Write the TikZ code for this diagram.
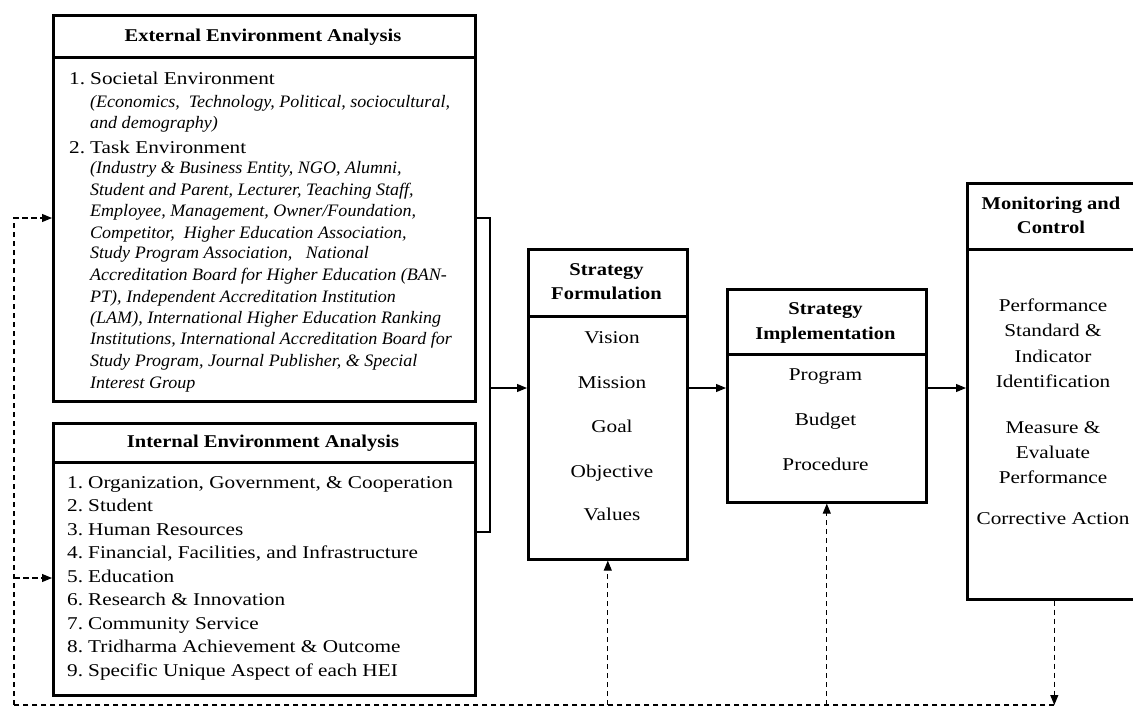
\documentclass[tikz,border=0pt]{standalone}
\usepackage{fontspec}
\setmainfont{Liberation Serif}[FakeStretch=1.18]
\newfontfamily\itfont{Liberation Serif}[FakeStretch=1.03]
\newfontfamily\bfont{Liberation Serif}[FakeStretch=1.14]
\usetikzlibrary{arrows.meta}
\begin{document}
\begin{tikzpicture}[x=1pt,y=-1pt,
  box/.style={draw, line width=2.6pt, inner sep=0pt, anchor=north west},
  thinline/.style={line width=1.1pt},
  conn/.style={line width=1.1pt, -{Triangle[length=10pt,width=8pt]}},
  fb/.style={line width=1.1pt, dash pattern=on 5.5pt off 3.5pt},
  fbarrow/.style={fb, -{Triangle[length=10pt,width=8pt]}},
  txt/.style={font=\fontsize{18}{20}\selectfont, inner sep=0pt, anchor=base west},
  itxt/.style={txt, font=\itfont\fontsize{17.5}{20}\selectfont\itshape},
  ctxt/.style={txt, anchor=base},
  htxt/.style={txt, anchor=base, font=\bfont\fontsize{18}{20}\selectfont\bfseries}
]
\clip (0,0) rectangle (1133,707);
\fill[white] (0,0) rectangle (1133,707);

% External
\node[box, minimum width=422pt, minimum height=42pt] (exth) at (52,14) {};
\node[box, minimum width=422pt, minimum height=344pt] (extb) at (52,56) {};
\node[htxt] (extt) at (263,41) {External Environment Analysis};
\node[txt] (e1n) at (69,84) {1.};
\node[txt] (e1) at (90,84) {Societal Environment};
\node[txt] (e2n) at (69,153) {2.};
\node[txt] (e2) at (90,153) {Task Environment};
\foreach \y/\t [count=\i] in {
  107.5/{(Economics,\ \ Technology, Political, sociocultural,},
  128.5/{and demography)},
  173.5/{(Industry \& Business Entity, NGO, Alumni,},
  195.5/{Student and Parent, Lecturer, Teaching Staff,},
  216.5/{Employee, Management, Owner/Foundation,},
  238.5/{Competitor,\ \ Higher Education Association,},
  258.5/{Study Program Association,\ \ \ National},
  280.5/{Accreditation Board for Higher Education (BAN-},
  302.5/{PT), Independent Accreditation Institution},
  323.5/{(LAM), International Higher Education Ranking},
  344.5/{Institutions, International Accreditation Board for},
  366.5/{Study Program, Journal Publisher, \& Special},
  388.5/{Interest Group}}
  \node[itxt] (ei\i) at (90,\y) {\t};

% Internal
\node[box, minimum width=422pt, minimum height=39pt] (inth) at (52,422) {};
\node[box, minimum width=422pt, minimum height=233pt] (intb) at (52,461) {};
\node[htxt] (intt) at (263,447.5) {Internal Environment Analysis};
\foreach \t [count=\i] in {
  {Organization, Government, \& Cooperation},
  {Student},
  {Human Resources},
  {Financial, Facilities, and Infrastructure},
  {Education},
  {Research \& Innovation},
  {Community Service},
  {Tridharma Achievement \& Outcome},
  {Specific Unique Aspect of each HEI}}
  {
  \node[txt] (in\i) at (67,{482+6+(\i-1)*23.5}) {\i.};
  \node[txt] (it\i) at (88,{482+6+(\i-1)*23.5}) {\t};
  }

% Strategy Formulation
\node[box, minimum width=159pt, minimum height=67pt] (formh) at (527,248) {};
\node[box, minimum width=159pt, minimum height=243pt] (formb) at (527,315) {};
\node[htxt] (ft1) at (606.5,275) {Strategy};
\node[htxt] (ft2) at (606.5,299) {Formulation};
\foreach \t/\y [count=\i] in {Vision/337,Mission/382,Goal/426,Objective/471,Values/514}
  \node[ctxt] (fi\i) at (612,\y+6) {\t};

% Strategy Implementation
\node[box, minimum width=199pt, minimum height=65pt] (implh) at (726,288) {};
\node[box, minimum width=199pt, minimum height=148pt] (implb) at (726,353) {};
\node[htxt] (it1h) at (825.5,314) {Strategy};
\node[htxt] (it2h) at (825.5,339) {Implementation};
\foreach \t/\y [count=\i] in {Program/374,Budget/419,Procedure/464}
  \node[ctxt] (ii\i) at (825.5,\y+6) {\t};

% Monitoring and Control
\node[box, minimum width=174pt, minimum height=66pt] (monh) at (966,182) {};
\node[box, minimum width=174pt, minimum height=350pt] (monb) at (966,248) {};
\node[htxt] (mt1) at (1051,209) {Monitoring and};
\node[htxt] (mt2) at (1051,233) {Control};
\foreach \t/\y [count=\i] in {Performance/305,Standard \&/330,Indicator/356,Identification/381,
  Measure \&/427,Evaluate/452,Performance/477,Corrective Action/518}
  \node[ctxt] (mi\i) at (1053,\y+6) {\t};

% connectors
\coordinate (bt) at (490,218);
\coordinate (bb) at (490,532);
\coordinate (brk) at (490,388);
\draw[thinline] (extb.east |- bt) -- (bt) -- (bb) -- (intb.east |- bb);
\draw[conn] (brk) -- (formb.west |- brk);
\draw[conn] (formb.east |- brk) -- (implb.west |- brk);
\draw[conn] (implb.east |- brk) -- (monb.west |- brk);

% feedback
\coordinate (fbl) at (14,705);
\coordinate (fbtop) at (14,218);
\coordinate (fbint) at (14,578);
\draw[fbarrow] (monb.south) -- (monb.south |- fbl);
\draw[fb] (monb.south |- fbl) -- (fbl);
\draw[fbarrow] (fbl) -- (fbtop) -- (extb.west |- fbtop);
\draw[fbarrow] (fbint) -- (intb.west |- fbint);
\draw[fbarrow] (formb.south |- fbl) -- (formb.south);
\draw[fbarrow] (implb.south |- fbl) -- (implb.south);
\end{tikzpicture}
\end{document}
